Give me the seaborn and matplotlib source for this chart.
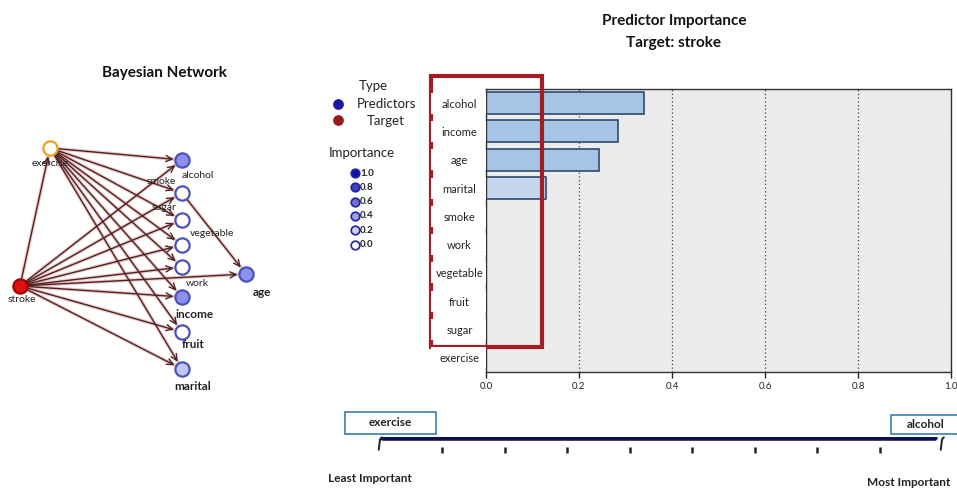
import numpy as np
import matplotlib
matplotlib.use("Agg")
import matplotlib.pyplot as plt
from matplotlib.patches import Rectangle
from matplotlib.colors import to_rgb
from matplotlib.transforms import blended_transform_factory
import seaborn as sns

# predictor importance
predictors = ["alcohol", "income", "age", "marital", "smoke", "work",
              "vegetable", "fruit", "sugar", "exercise"]
importance = [0.34, 0.284, 0.243, 0.129, 0.0, 0.0, 0.0, 0.0, 0.0, 0.0]
bar_colors = ["#a6c4e5", "#a6c4e5", "#a6c4e5", "#c3d6ec", "#c3d6ec",
              "#c3d6ec", "#c3d6ec", "#c3d6ec", "#c3d6ec", "#c3d6ec"]
x_ticks = [0.0, 0.2, 0.4, 0.6, 0.8, 1.0]
legend_levels = [1.0, 0.8, 0.6, 0.4, 0.2, 0.0]
n_scale_steps = 9

# bayesian network layout (left panel, screen-like coords)
net_nodes = ["exercise", "stroke", "alcohol", "smoke", "sugar", "vegetable",
             "work", "income", "fruit", "marital", "age"]
net_x = [50, 20, 182, 182, 182, 182, 182, 182, 182, 182, 246]
net_y = [148, 286, 160, 193, 220, 245, 267, 297, 332, 369, 274]
label_x = [50, 22, 198, 161, 164, 212, 197, 194, 193, 193, 262]
label_y = [164, 300, 176, 182, 208, 234, 283, 314, 345, 386, 293]
label_bold = [False, False, False, False, False, False, False, True, True, True, True]
edge_src = ["stroke"] * 10 + ["exercise"] * 8 + ["smoke"]
edge_dst = ["exercise", "alcohol", "smoke", "sugar", "vegetable", "work",
            "income", "fruit", "marital", "age",
            "alcohol", "smoke", "sugar", "vegetable", "work", "income",
            "fruit", "marital", "age"]

W, H = 957, 488
sns.set_style("white")
plt.rcParams["font.family"] = ["Lato", "DejaVu Sans"]
fig = plt.figure(figsize=(W / 100, H / 100), dpi=100)

# overlay axes in pixel coordinates for legend / network / scale decorations
ov = fig.add_axes([0, 0, 1, 1], zorder=5)
ov.set_xlim(0, W)
ov.set_ylim(H, 0)
ov.axis("off")
ov.patch.set_alpha(0)

# ---------------- bar chart ----------------
ax = fig.add_axes([486 / W, 1 - 372 / H, 465 / W, 283 / H])
sns.barplot(x=importance, y=predictors, hue=predictors, palette=bar_colors,
            legend=False, orient="h", width=0.78, saturation=1,
            edgecolor="#2d4b6e", linewidth=1.2, ax=ax)
ax.set_facecolor("#ebebeb")
ax.set_xlim(0, 1)
ax.set_xticks(x_ticks)
ax.set_xticklabels([f"{v:.1f}" for v in x_ticks])
ax.set_xlabel("")
ax.set_ylabel("")
ax.xaxis.grid(True, linestyle=(0, (1, 2)), color="#444444", lw=0.9)
ax.set_axisbelow(True)
for s in ax.spines.values():
    s.set_color("#333333")
    s.set_linewidth(1.0)
ax.tick_params(axis="x", length=4, width=1, labelsize=7, colors="#222222", bottom=True)
ax.tick_params(axis="y", length=0, pad=19, labelsize=8, labelcolor="#222222")
for t in ax.get_yticklabels():
    t.set_ha("center")
ax.yaxis.set_zorder(4)

# red highlight box around the predictor labels
ax.add_patch(Rectangle((431, 76), 111, 271, fill=False, edgecolor="#a51c24",
                       lw=3, transform=ov.transData, clip_on=False, zorder=3))
# white label plates behind each category name
tr = blended_transform_factory(ov.transData, ax.transData)
for i in range(len(predictors)):
    ax.add_patch(Rectangle((431, i - 0.37), 55, 0.74, facecolor="white",
                           edgecolor="none", transform=tr, clip_on=False, zorder=3.5))

fig.text(674 / W, 1 - 21 / H, "Predictor Importance", ha="center", va="center",
         fontsize=11, fontweight="bold", color="#111111")
fig.text(674 / W, 1 - 43 / H, "Target: stroke", ha="center", va="center",
         fontsize=11, fontweight="bold", color="#111111")

# ---------------- legend ----------------
ov.text(373, 86, "Type", ha="center", va="center", fontsize=9.5, color="#222222")
ov.scatter([338], [104], s=45, color="#1a1aa8", zorder=6)
ov.text(387, 104, "Predictors", ha="center", va="center", fontsize=9.5, color="#222222")
ov.scatter([338], [120], s=45, color="#9b1b1b", zorder=6)
ov.text(386, 121, "Target", ha="center", va="center", fontsize=9.5, color="#222222")
ov.text(362, 153, "Importance", ha="center", va="center", fontsize=9.5, color="#222222")
dark = np.array(to_rgb("#1010b0"))
for i, lv in enumerate(legend_levels):
    yy = 173 + i * 14.3
    fc = (1 - lv) * np.ones(3) + lv * dark
    ov.scatter([355], [yy], s=38, color=fc, edgecolor="#2020a0", linewidth=1.2, zorder=6)
    ov.text(360, yy, f"{lv:.1f}", ha="left", va="center", fontsize=7,
            fontweight="bold", color="#222222")

# ---------------- network ----------------
ov.text(164, 73, "Bayesian Network", ha="center", va="center", fontsize=11,
        fontweight="bold", color="#111111")
pos = {n: (x, y) for n, x, y in zip(net_nodes, net_x, net_y)}
imp = dict(zip(predictors, importance))
for a, b in zip(edge_src, edge_dst):
    ov.annotate("", xy=pos[b], xytext=pos[a],
                arrowprops=dict(arrowstyle="-", color="#e0a8a8", lw=2.6, alpha=0.6,
                                shrinkA=5, shrinkB=6), zorder=2)
    ov.annotate("", xy=pos[b], xytext=pos[a],
                arrowprops=dict(arrowstyle="->,head_length=0.45,head_width=0.22",
                                color="#4e2222", lw=1.0, shrinkA=5, shrinkB=6), zorder=3)
node_blue = np.array(to_rgb("#8c90ee"))
for n, x, y in zip(net_nodes, net_x, net_y):
    if n == "stroke":
        fc, ec = "#e01010", "#a00000"
    elif n == "exercise":
        fc, ec = "white", "#e8a020"
    else:
        f = min(imp[n] / 0.25, 1.0)
        fc = (1 - f) * np.ones(3) + f * node_blue
        ec = "#4a52b8"
    ov.scatter([x], [y], s=105, color=fc, edgecolor=ec, linewidth=1.6, zorder=4)
for n, lx, ly, b in zip(net_nodes, label_x, label_y, label_bold):
    ov.text(lx, ly, n, ha="center", va="center", fontsize=8.5 if b else 7.5,
            fontweight="bold" if b else "normal", color="#222222", zorder=5)

# ---------------- importance scale ----------------
ax_s = fig.add_axes([380 / W, 1 - 453 / H, 562 / W, 16 / H])
ax_s.set_xlim(0, n_scale_steps)
ax_s.set_ylim(0, 1)
ax_s.set_facecolor("none")
for s in ax_s.spines.values():
    s.set_visible(False)
sns.lineplot(x=[0.05, n_scale_steps - 0.12], y=[0.94, 0.94], color="#10104a", lw=4, ax=ax_s)
ax_s.set_xticks(range(1, n_scale_steps))
ax_s.set_xticklabels([])
ax_s.set_yticks([])
ax_s.tick_params(axis="x", direction="in", length=4.5, width=1.8, colors="#222222", bottom=True)
for xe in (0, n_scale_steps):
    ax_s.plot([xe + 0.03, xe, xe - 0.02], [0.98, 0.85, 0.2], color="#222222", lw=1.4,
              clip_on=False)

least = predictors[int(np.argmin(importance[::-1])) * -1 - 1]
most = predictors[int(np.argmax(importance))]
ov.add_patch(Rectangle((345, 412), 91, 22, facecolor="white", edgecolor="#3a7fb0", lw=1.2, zorder=6))
ov.text(390, 423, least, ha="center", va="center", fontsize=8.5, fontweight="bold",
        color="#222222", zorder=7)
ov.add_patch(Rectangle((891, 415), 70, 19, facecolor="white", edgecolor="#3a7fb0", lw=1.2, zorder=6))
ov.text(926, 424, most, ha="center", va="center", fontsize=8.5, fontweight="bold",
        color="#222222", zorder=7)
ov.text(328, 478, "Least Important", ha="left", va="center", fontsize=8.5,
        fontweight="bold", color="#222222")
ov.text(950, 483, "Most Important", ha="right", va="center", fontsize=8.5,
        fontweight="bold", color="#222222")

fig.savefig("out.png", dpi=100)
